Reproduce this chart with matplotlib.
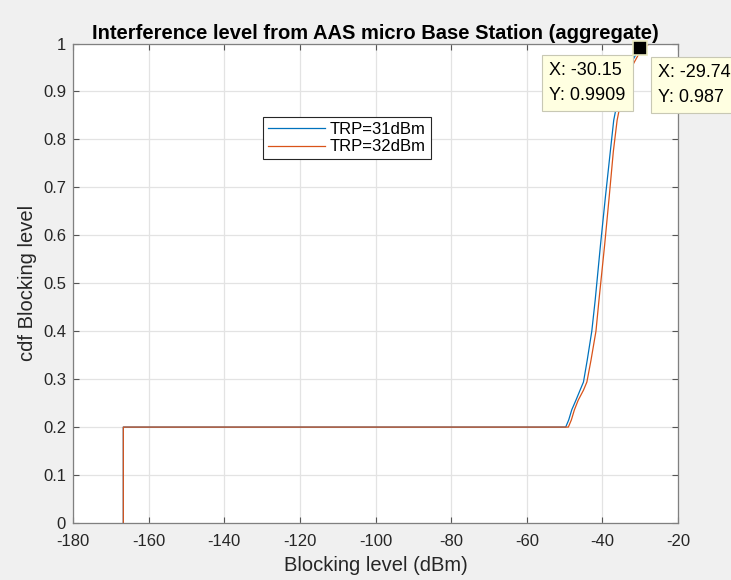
import matplotlib
matplotlib.use("Agg")
import matplotlib.pyplot as plt

plt.rcParams['font.family'] = ['Liberation Sans', 'DejaVu Sans']
plt.rcParams['axes.unicode_minus'] = False

# CDF curves
x_31 = [-166.7, -166.7, -49.7, -48.9, -48.1, -47.0, -45.9, -45.0, -44.0, -42.8,
        -41.9, -40.5, -39.2, -37.9, -37.0, -35.5, -33.5, -32.2, -30.15, -28.5, -27.0]
y_31 = [0.0, 0.2, 0.2, 0.215, 0.236, 0.256, 0.277, 0.294, 0.34, 0.40,
        0.465, 0.58, 0.68, 0.775, 0.84, 0.90, 0.945, 0.962, 0.9909, 0.998, 1.0]

x_32 = [-166.7, -166.7, -49.0, -48.2, -47.4, -46.4, -45.0, -44.1, -43.0, -41.7,
        -40.9, -39.4, -38.2, -37.1, -36.1, -34.6, -32.6, -31.5, -29.74, -27.8, -25.5]
y_32 = [0.0, 0.2, 0.2, 0.215, 0.236, 0.256, 0.277, 0.294, 0.34, 0.40,
        0.465, 0.58, 0.68, 0.775, 0.84, 0.90, 0.945, 0.962, 0.987, 0.998, 1.0]

labels = ['TRP=31dBm', 'TRP=32dBm']
tip_x = [-30.15, -29.74]
tip_y = [0.9909, 0.987]
tip_txt = ['X: -30.15\nY: 0.9909', 'X: -29.74\nY: 0.987']

fig = plt.figure(figsize=(7.31, 5.8), dpi=100, facecolor='#f0f0f0')
ax = fig.add_axes([0.0999, 0.0983, 0.8276, 0.8267])
ax.set_facecolor('white')

ax.plot(x_31, y_31, color='#0072BD', lw=0.9, label=labels[0])
ax.plot(x_32, y_32, color='#D95319', lw=0.9, label=labels[1])

ax.set_xlim(-180, -20)
ax.set_ylim(0, 1)
ax.set_xticks(range(-180, -19, 20))
ax.set_yticks([i / 10 for i in range(11)])
ax.set_yticklabels(['0'] + ['0.%d' % i for i in range(1, 10)] + ['1'])

ax.grid(True, color='#e3e3e3', lw=0.9)
ax.set_axisbelow(True)
for s in ax.spines.values():
    s.set_color('#808080')
    s.set_linewidth(0.9)
ax.tick_params(direction='in', length=4, width=0.8, color='#555555',
               labelsize=12, labelcolor='#262626', top=True, right=True)
ax.tick_params(axis='x', pad=8)
ax.tick_params(axis='y', pad=5)

ax.set_title('Interference level from AAS micro Base Station (aggregate)',
             fontsize=14.5, fontweight='bold', pad=3)
ax.set_xlabel('Blocking level (dBm)', fontsize=14.5, color='#262626', labelpad=5)
ax.set_ylabel('cdf Blocking level', fontsize=14.5, color='#262626', labelpad=4)

leg = ax.legend(loc='upper left', bbox_to_anchor=(0.314, 0.847), fontsize=12,
                handlelength=3.4, fancybox=False, framealpha=1, borderpad=0.3,
                labelspacing=0.15, handletextpad=0.3, borderaxespad=0)
leg.get_frame().set_edgecolor('#262626')
leg.get_frame().set_linewidth(0.8)

# data tips
box = dict(boxstyle='square,pad=0.38', fc='#ffffe1', ec='#c8c8b4', lw=0.8)
ax.annotate(tip_txt[1], xy=(tip_x[1], tip_y[1]),
            xytext=(12, -10), textcoords='offset points', ha='left', va='top',
            multialignment='left', fontsize=13, bbox=box,
            annotation_clip=False, linespacing=1.65)
ax.annotate(tip_txt[0], xy=(tip_x[0], tip_y[0]),
            xytext=(-10, -10), textcoords='offset points', ha='right', va='top',
            multialignment='left', fontsize=13, bbox=box,
            annotation_clip=False, linespacing=1.65)
ax.plot(tip_x[0], tip_y[0], 's', ms=10, mfc='black', mec='#e8e8c0', mew=1.2,
        clip_on=False, zorder=5)

fig.savefig('out.png', dpi=100, facecolor=fig.get_facecolor())
